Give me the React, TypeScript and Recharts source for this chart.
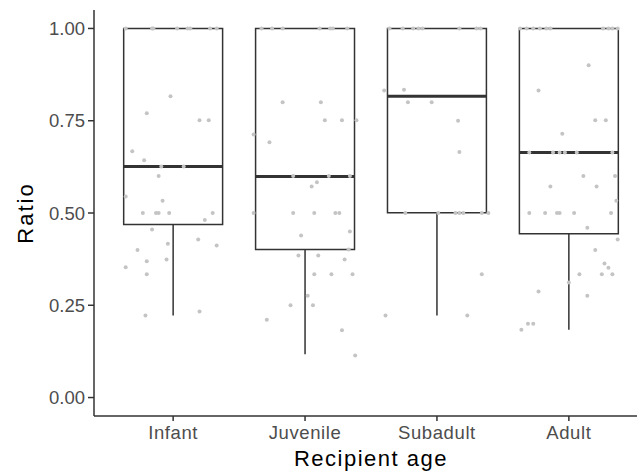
import {
  ComposedChart,
  ReferenceArea,
  ReferenceLine,
  Scatter,
  XAxis,
  YAxis,
} from "recharts";

const CATEGORIES = ["Infant", "Juvenile", "Subadult", "Adult"];
const Y_TICKS = [0, 0.25, 0.5, 0.75, 1];

// box statistics per category
const Q1 = [0.469, 0.401, 0.501, 0.444];
const MEDIAN = [0.626, 0.599, 0.816, 0.664];
const Q3 = [1, 1, 1, 1];
const WHISKER_LOW = [0.222, 0.117, 0.222, 0.184];

// jittered observations: [horizontal offset, ratio]
const INFANT: [number, number][] = [
  [-0.36, 1], [-0.16, 1], [-0.15, 1], [0.03, 1], [0.11, 1], [0.13, 1], [0.28, 1], [0.33, 1],
  [-0.02, 0.816], [-0.2, 0.77], [0.2, 0.751], [0.27, 0.751], [-0.31, 0.667], [-0.22, 0.643],
  [-0.09, 0.626], [0.08, 0.626], [-0.11, 0.6], [-0.36, 0.545], [-0.08, 0.533],
  [-0.23, 0.5], [-0.13, 0.5], [-0.11, 0.5], [-0.03, 0.5], [0.3, 0.5],
  [0.24, 0.481], [-0.16, 0.455], [0.19, 0.428], [0.33, 0.412], [-0.04, 0.417],
  [-0.27, 0.4], [-0.2, 0.369], [-0.05, 0.374], [-0.36, 0.353], [-0.2, 0.334],
  [-0.21, 0.222], [0.2, 0.233],
];
const JUVENILE: [number, number][] = [
  [-0.33, 1], [-0.25, 1], [-0.17, 1], [0.11, 1], [0.19, 1], [0.21, 1], [0.32, 1],
  [-0.17, 0.8], [0.12, 0.8], [-0.39, 0.713], [-0.27, 0.692],
  [0.15, 0.751], [0.28, 0.751], [0.39, 0.751],
  [-0.09, 0.6], [0.18, 0.6], [0.34, 0.6], [0.09, 0.583], [0.05, 0.572],
  [-0.39, 0.5], [-0.09, 0.5], [0.07, 0.5], [0.23, 0.5], [0.26, 0.5],
  [0.34, 0.45], [-0.03, 0.439], [0.33, 0.401], [-0.05, 0.385], [0.1, 0.385], [0.3, 0.374],
  [0.07, 0.334], [0.2, 0.334], [0.36, 0.334], [0.02, 0.276],
  [-0.11, 0.25], [0.06, 0.25], [-0.29, 0.211], [0.28, 0.182], [0.38, 0.114],
];
const SUBADULT: [number, number][] = [
  [-0.36, 1], [-0.26, 1], [-0.18, 1], [-0.14, 1], [-0.11, 1], [0.17, 1], [0.3, 1], [0.33, 1],
  [-0.4, 0.832], [-0.25, 0.834], [-0.22, 0.8], [-0.04, 0.8], [0.16, 0.75], [0.17, 0.665],
  [-0.24, 0.5], [0.01, 0.5], [0.14, 0.5], [0.17, 0.5], [0.2, 0.5], [0.34, 0.5], [0.39, 0.5],
  [0.34, 0.334], [-0.39, 0.222], [0.23, 0.222],
];
const ADULT: [number, number][] = [
  [-0.37, 1], [-0.32, 1], [-0.27, 1], [-0.22, 1], [-0.17, 1], [-0.14, 1],
  [0.26, 1], [0.3, 1], [0.33, 1], [0.37, 1],
  [0.15, 0.9], [-0.23, 0.832], [0.2, 0.751], [0.28, 0.751], [-0.05, 0.715],
  [-0.3, 0.664], [-0.12, 0.664], [-0.07, 0.664], [-0.03, 0.664], [0.06, 0.664], [0.33, 0.664],
  [0.11, 0.6], [0.35, 0.6], [-0.14, 0.572], [0.21, 0.572], [0.36, 0.533],
  [-0.3, 0.5], [-0.18, 0.5], [-0.09, 0.5], [-0.07, 0.5], [0.04, 0.5], [0.32, 0.5],
  [0.14, 0.46], [0.37, 0.428], [0.2, 0.4], [0.27, 0.363], [0.3, 0.352],
  [0.08, 0.334], [0.25, 0.334], [0.33, 0.334], [0.0, 0.312], [0.14, 0.276], [-0.23, 0.287],
  [-0.36, 0.184], [-0.31, 0.2], [-0.27, 0.2],
];

const GROUPS = [INFANT, JUVENILE, SUBADULT, ADULT];

const points = GROUPS.flatMap((g, i) =>
  g.map(([dx, y]) => ({ x: i + 1 + dx, y }))
);

const FONT = "'Liberation Sans', Arial, sans-serif";
const AXIS = "#333333";
const HALF = 0.375;

function XTitle(props: any) {
  const vb = props.viewBox;
  return (
    <text
      x={vb.x + vb.width / 2}
      y={466}
      textAnchor="middle"
      fontFamily={FONT}
      fontSize={22}
      letterSpacing={1.5}
      fill="#000"
    >
      Recipient age
    </text>
  );
}

function YTitle(props: any) {
  const vb = props.viewBox;
  const cy = vb.y + vb.height / 2;
  return (
    <text
      x={33}
      y={cy}
      transform={`rotate(-90, 33, ${cy})`}
      textAnchor="middle"
      fontFamily={FONT}
      fontSize={22}
      letterSpacing={2}
      fill="#000"
    >
      Ratio
    </text>
  );
}

export default function App() {
  return (
    <div
      style={{
        position: "absolute",
        left: 0,
        top: 0,
        width: 637,
        height: 472,
        overflow: "hidden",
        background: "#fff",
      }}
    >
      <ComposedChart
        width={648}
        height={472}
        margin={{ top: 10, right: 0, bottom: 0, left: 0 }}
      >
        <XAxis
          type="number"
          dataKey="x"
          domain={[0.4, 4.6]}
          ticks={[1, 2, 3, 4]}
          tickFormatter={(v: number) => CATEGORIES[v - 1]}
          allowDataOverflow
          height={56}
          tickSize={5}
          tickMargin={5}
          axisLine={{ stroke: AXIS, strokeWidth: 1.5 }}
          tickLine={{ stroke: AXIS, strokeWidth: 1.5 }}
          tick={{ fill: "#4d4d4d", fontSize: 18.5, fontFamily: FONT, letterSpacing: 0.6 }}
          label={<XTitle />}
        />
        <YAxis
          type="number"
          dataKey="y"
          domain={[-0.05, 1.05]}
          ticks={Y_TICKS}
          tickFormatter={(v: number) => v.toFixed(2)}
          allowDataOverflow
          width={94}
          tickSize={6}
          tickMargin={3}
          axisLine={{ stroke: AXIS, strokeWidth: 1.5 }}
          tickLine={{ stroke: AXIS, strokeWidth: 1.5 }}
          tick={{ fill: "#4d4d4d", fontSize: 18.5, fontFamily: FONT }}
          label={<YTitle />}
        />
        {CATEGORIES.map((c, i) => (
          <ReferenceLine
            key={`w-${c}`}
            segment={[
              { x: i + 1, y: WHISKER_LOW[i] },
              { x: i + 1, y: Q1[i] },
            ]}
            stroke={AXIS}
            strokeWidth={1.5}
          />
        ))}
        {CATEGORIES.map((c, i) => (
          <ReferenceArea
            key={`b-${c}`}
            x1={i + 1 - HALF}
            x2={i + 1 + HALF}
            y1={Q1[i]}
            y2={Q3[i]}
            fill="none"
            stroke={AXIS}
            strokeWidth={1.5}
            fillOpacity={0}
            strokeOpacity={1}
          />
        ))}
        {CATEGORIES.map((c, i) => (
          <ReferenceLine
            key={`m-${c}`}
            segment={[
              { x: i + 1 - HALF, y: MEDIAN[i] },
              { x: i + 1 + HALF, y: MEDIAN[i] },
            ]}
            stroke={AXIS}
            strokeWidth={3}
          />
        ))}
        <Scatter
          data={points}
          isAnimationActive={false}
          shape={(p: any) => <circle cx={p.cx} cy={p.cy} r={2} fill="#c4c4c4" />}
        />
      </ComposedChart>
    </div>
  );
}
